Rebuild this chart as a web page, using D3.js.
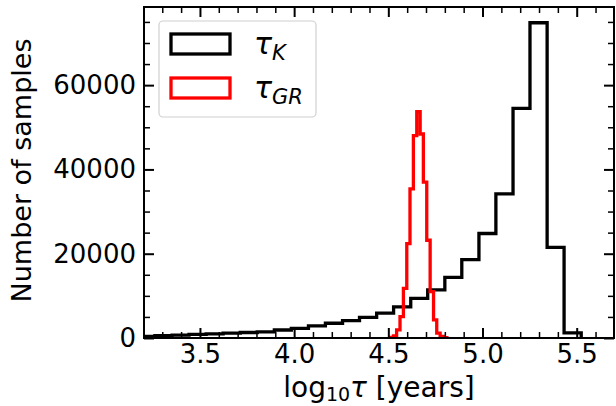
<!DOCTYPE html>
<html>
<head>
<meta charset="utf-8">
<script src="https://cdn.jsdelivr.net/npm/d3@7"></script>
<style>
  body { margin: 0; background: #fff; }
  svg { display: block; font-family: "DejaVu Sans", sans-serif; }
</style>
</head>
<body>
<svg id="chart" width="616" height="406"></svg>
<script>
// histogram of tau_K (black)
const kEdges = [3.171, 3.261, 3.352, 3.442, 3.533, 3.623, 3.714, 3.804, 3.895, 3.985, 4.076, 4.166, 4.257, 4.347,
                4.438, 4.528, 4.619, 4.709, 4.800, 4.890, 4.981, 5.071, 5.162, 5.252, 5.343, 5.433, 5.524];
const kCounts = [400, 550, 700, 850, 1000, 1150, 1300, 1450, 1900, 2300, 2900, 3500, 4100, 4900,
                 5900, 7400, 9400, 11400, 14400, 18600, 24800, 34200, 54500, 74800, 21500, 1200];

// histogram of tau_GR (red)
const grEdges = [4.509, 4.527, 4.544, 4.562, 4.580, 4.598, 4.615, 4.633, 4.651, 4.669, 4.686, 4.704,
                 4.722, 4.740, 4.757, 4.775, 4.793, 4.811];
const grCounts = [150, 500, 1940, 5080, 11780, 22400, 35400, 48000, 53700, 48400, 37000, 23200,
                  11000, 4300, 1160, 400, 100];

const xMajor = [3.5, 4.0, 4.5, 5.0, 5.5];
const xMinor = [3.3, 3.4, 3.6, 3.7, 3.8, 3.9, 4.1, 4.2, 4.3, 4.4, 4.6, 4.7, 4.8, 4.9, 5.1, 5.2, 5.3, 5.4, 5.6];
const yMajor = [0, 20000, 40000, 60000];
const yMinor = [5000, 10000, 15000, 25000, 30000, 35000, 45000, 50000, 55000, 65000, 70000, 75000];

const pL = 144, pR = 614, pT = 7, pB = 338;

const svg = d3.select("#chart");

const x = d3.scaleLinear().domain([3.203, 5.698]).range([pL, pR]);
const y = d3.scaleLinear().domain([0, 78540]).range([pB, pT]);

svg.append("defs").append("clipPath").attr("id", "plotclip")
  .append("rect").attr("x", pL).attr("y", pT).attr("width", pR - pL).attr("height", pB - pT);

function stepPoints(edges, counts) {
  let pts = [[edges[0], 0]];
  counts.forEach(function(c, i) {
    pts.push([edges[i], c]);
    pts.push([edges[i + 1], c]);
  });
  pts.push([edges[edges.length - 1], 0]);
  return pts;
}

const line = d3.line().x(d => x(d[0])).y(d => y(d[1]));

const plot = svg.append("g").attr("clip-path", "url(#plotclip)");

plot.append("path")
  .attr("d", line(stepPoints(kEdges, kCounts)))
  .attr("fill", "none")
  .attr("stroke", "#000")
  .attr("stroke-width", 3.3)
  .attr("stroke-linejoin", "miter");

plot.append("path")
  .attr("d", line(stepPoints(grEdges, grCounts)))
  .attr("fill", "none")
  .attr("stroke", "#ff0000")
  .attr("stroke-width", 3.3)
  .attr("stroke-linejoin", "miter");

// ticks, all pointing inwards
function styleAxis(g, w) {
  g.select(".domain").remove();
  g.selectAll(".tick line").attr("stroke", "#000").attr("stroke-width", w);
  g.selectAll(".tick text").attr("fill", "#000").attr("font-family", "DejaVu Sans").attr("font-size", 26);
}

svg.append("g").attr("transform", "translate(0," + pB + ")")
  .call(d3.axisBottom(x).tickValues(xMajor).tickSize(-10).tickPadding(7).tickFormat(d3.format(".1f")))
  .call(g => styleAxis(g, 2));
svg.append("g").attr("transform", "translate(0," + pB + ")")
  .call(d3.axisBottom(x).tickValues(xMinor).tickSize(-6).tickFormat(""))
  .call(g => styleAxis(g, 1.5));
svg.append("g").attr("transform", "translate(0," + pT + ")")
  .call(d3.axisTop(x).tickValues(xMajor).tickSize(-10).tickFormat(""))
  .call(g => styleAxis(g, 2));
svg.append("g").attr("transform", "translate(0," + pT + ")")
  .call(d3.axisTop(x).tickValues(xMinor).tickSize(-6).tickFormat(""))
  .call(g => styleAxis(g, 1.5));

svg.append("g").attr("transform", "translate(" + pL + ",0)")
  .call(d3.axisLeft(y).tickValues(yMajor).tickSize(-10).tickPadding(8).tickFormat(d3.format("d")))
  .call(g => styleAxis(g, 2));
svg.append("g").attr("transform", "translate(" + pL + ",0)")
  .call(d3.axisLeft(y).tickValues(yMinor).tickSize(-6).tickFormat(""))
  .call(g => styleAxis(g, 1.5));
svg.append("g").attr("transform", "translate(" + pR + ",0)")
  .call(d3.axisRight(y).tickValues(yMajor).tickSize(-10).tickFormat(""))
  .call(g => styleAxis(g, 2));
svg.append("g").attr("transform", "translate(" + pR + ",0)")
  .call(d3.axisRight(y).tickValues(yMinor).tickSize(-6).tickFormat(""))
  .call(g => styleAxis(g, 1.5));

// frame
svg.append("rect")
  .attr("x", pL).attr("y", pT)
  .attr("width", pR - pL).attr("height", pB - pT)
  .attr("fill", "none").attr("stroke", "#000").attr("stroke-width", 2);

// axis labels
const xl = svg.append("text")
  .attr("x", (pL + pR) / 2).attr("y", 397)
  .attr("text-anchor", "middle")
  .attr("font-size", 28);
xl.append("tspan").text("log");
xl.append("tspan").attr("font-size", 19).attr("dy", 4).text("10");
xl.append("tspan").attr("dy", -4).attr("font-style", "italic").text("τ");
xl.append("tspan").text(" [years]");

svg.append("text")
  .attr("transform", "translate(31," + ((pT + pB) / 2 - 2) + ") rotate(-90)")
  .attr("text-anchor", "middle")
  .attr("font-size", 27)
  .text("Number of samples");

// legend
const legend = svg.append("g");
legend.append("rect")
  .attr("x", 159).attr("y", 21).attr("width", 157).attr("height", 96)
  .attr("rx", 4)
  .attr("fill", "#fff").attr("fill-opacity", 0.8)
  .attr("stroke", "#d0d0d0").attr("stroke-width", 1.2);

const legendItems = [
  { sym: "τ", sub: "K", color: "#000", y: 44 },
  { sym: "τ", sub: "GR", color: "#ff0000", y: 88 }
];
legendItems.forEach(function(d) {
  legend.append("rect")
    .attr("x", 171).attr("y", d.y - 10).attr("width", 59).attr("height", 20)
    .attr("fill", "none").attr("stroke", d.color).attr("stroke-width", 3.3);
  const t = legend.append("text")
    .attr("x", 254).attr("y", d.y + 10)
    .attr("font-size", 30);
  t.append("tspan").attr("font-style", "italic").text(d.sym);
  t.append("tspan").attr("font-style", "italic").attr("font-size", 21).attr("dy", 6).text(d.sub);
});
</script>
</body>
</html>
